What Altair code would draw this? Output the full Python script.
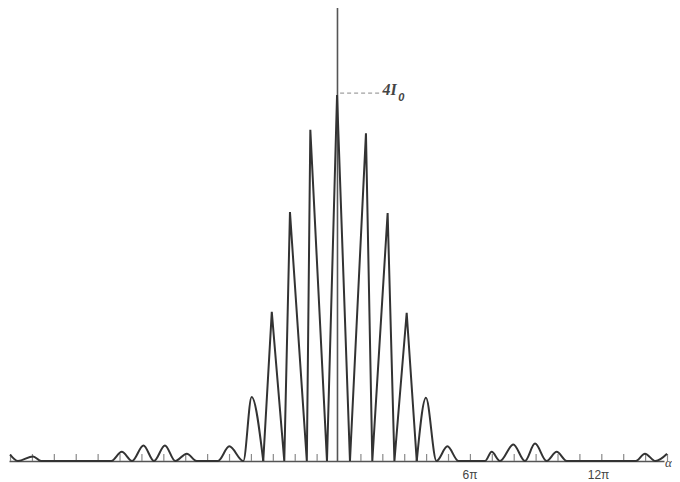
import altair as alt
import pandas as pd

# ---- data (alpha in units of pi, intensity in units of I0) ----
alpha = [-15.02, -14.66, -13.97, -13.60, -10.40, -9.92, -9.45, -8.93, -8.45, -7.95,
         -7.48, -6.95, -6.50, -5.53, -5.01, -4.37, -3.99, -3.46, -3.07, -2.50,
         -2.24, -1.47, -1.31, -0.55, -0.09, 0.50, 1.23, 1.52, 2.22, 2.53,
         3.09, 3.55, 3.97, 4.45, 4.95, 5.45, 6.67, 6.97, 7.35, 7.96,
         8.49, 8.95, 9.48, 9.94, 10.40, 13.55, 13.97, 14.45, 14.98]
intensity = [0.07, 0.0, 0.05, 0.0, 0.0, 0.10, 0.0, 0.17, 0.0, 0.17,
             0.0, 0.08, 0.0, 0.0, 0.16, 0.0, 0.70, 0.0, 1.63, 0.0,
             2.72, 0.0, 3.62, 0.0, 4.0, 0.0, 3.58, 0.0, 2.71, 0.0,
             1.62, 0.0, 0.69, 0.0, 0.16, 0.0, 0.0, 0.10, 0.0, 0.18,
             0.0, 0.19, 0.0, 0.10, 0.0, 0.0, 0.08, 0.0, 0.08]

# the tall central fringes are drawn as sharp spikes, the side lobes as smooth humps
spike_from, spike_to = -3.46, 3.55

tick_pos = [-15, -14, -13, -12, -11, -10, -9, -8, -7, -6, -5, -4, -3, -2, -1,
            1, 2, 3, 4, 5, 6, 7, 8, 9, 10, 11, 12, 13, 14, 15]
label_pos = [5.98, 11.85]
label_text = ["6π", "12π"]

peak_label_main = "4I"
peak_label_sub = "0"
leader_start = 0.05
leader_end = 1.87
leader_level = 4.02
axis_x = -0.07
axis_top = 4.95
var_label = "α"

# ---- layout ----
W, H = 655, 453
xs = alt.Scale(domain=[-15.07, 14.84], nice=False, zero=False)
ys = alt.Scale(domain=[0, 4.95], nice=False, zero=False)

curve_df = pd.DataFrame({"a": alpha, "i": intensity})
spike_df = curve_df[(curve_df.a >= spike_from) & (curve_df.a <= spike_to)]
side_df = pd.concat([
    curve_df[curve_df.a <= spike_from].assign(side="L"),
    curve_df[curve_df.a >= spike_to].assign(side="R"),
])
tick_df = pd.DataFrame({"a": tick_pos})
lab_df = pd.DataFrame({"a": label_pos, "t": label_text})
vline_df = pd.DataFrame({"a": [axis_x], "y0": [0.0], "y1": [axis_top]})
leader_df = pd.DataFrame({"a": [leader_start], "a2": [leader_end], "y": [leader_level]})
txt_df = pd.DataFrame({"a": [1.98], "y": [4.05], "t": [peak_label_main]})
sub_df = pd.DataFrame({"a": [2.85], "y": [3.97], "t": [peak_label_sub]})
var_df = pd.DataFrame({"a": [15.2], "y": [-0.02], "t": [var_label]})

base_axis = alt.Axis(domain=True, domainColor="#555555", domainWidth=1.5,
                     ticks=False, labels=False, grid=False, title=None)

vline = alt.Chart(vline_df).mark_rule(color="#555555", strokeWidth=1.6).encode(
    x=alt.X("a:Q", scale=xs, axis=base_axis),
    y=alt.Y("y0:Q", scale=ys, axis=None),
    y2="y1:Q",
)

ticks = alt.Chart(tick_df).mark_rule(color="#8a8a8a", strokeWidth=1.2).encode(
    x=alt.X("a:Q", scale=xs),
    y=alt.value(H - 7),
    y2=alt.value(H),
)

spikes = alt.Chart(spike_df).mark_line(
    color="#333333", strokeWidth=2, interpolate="linear", strokeJoin="miter"
).encode(
    x=alt.X("a:Q", scale=xs),
    y=alt.Y("i:Q", scale=ys),
)

sides = alt.Chart(side_df).mark_line(
    color="#333333", strokeWidth=2, interpolate="monotone"
).encode(
    x=alt.X("a:Q", scale=xs),
    y=alt.Y("i:Q", scale=ys),
    detail="side:N",
)

leader = alt.Chart(leader_df).mark_rule(
    color="#888888", strokeWidth=1, strokeDash=[4, 3]
).encode(
    x=alt.X("a:Q", scale=xs),
    x2="a2:Q",
    y=alt.Y("y:Q", scale=ys),
)

txt = alt.Chart(txt_df).mark_text(
    align="left", baseline="middle", font="Liberation Serif", fontStyle="italic",
    fontWeight="bold", fontSize=16, color="#444444"
).encode(x=alt.X("a:Q", scale=xs), y=alt.Y("y:Q", scale=ys), text="t:N")

sub = alt.Chart(sub_df).mark_text(
    align="center", baseline="middle", font="Liberation Sans", fontStyle="italic",
    fontWeight="bold", fontSize=11, color="#444444"
).encode(x=alt.X("a:Q", scale=xs), y=alt.Y("y:Q", scale=ys), text="t:N")

labels = alt.Chart(lab_df).mark_text(
    align="center", baseline="middle", font="Liberation Sans",
    fontSize=12, color="#444444"
).encode(x=alt.X("a:Q", scale=xs), y=alt.value(H + 14), text="t:N")

var = alt.Chart(var_df).mark_text(
    align="right", baseline="middle", font="Liberation Serif", fontStyle="italic",
    fontSize=13, color="#444444"
).encode(x=alt.X("a:Q", scale=xs), y=alt.Y("y:Q", scale=ys), text="t:N")

chart = alt.layer(vline, ticks, sides, spikes, leader, txt, sub, labels, var).properties(
    width=W, height=H,
    autosize=alt.AutoSizeParams(type="none"),
    padding={"left": 1, "top": 0, "right": 8, "bottom": 21},
    background="white",
).configure_view(stroke=None)

chart.save("out.html", embed_options={"renderer": "svg", "actions": False})
